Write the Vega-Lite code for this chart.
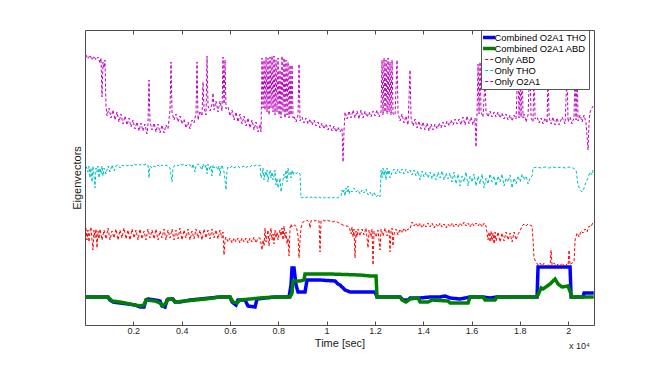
{
"$schema":"https://vega.github.io/schema/vega-lite/v6.json",
"width":509,"height":295,"autosize":"none",
"padding":{"left":85,"top":30,"right":60,"bottom":40},
"background":"white",
"title":{"text":"x 10⁴","orient":"bottom","anchor":"end","fontSize":9,"fontWeight":"normal","color":"#262626","font":"Liberation Sans","offset":-6,"dx":-4},
"config":{
 "font":"Liberation Sans",
 "view":{"stroke":"#4d4d4d","strokeWidth":1},
 "axis":{"domainColor":"#4d4d4d","tickColor":"#4d4d4d","labelColor":"#262626","titleColor":"#1a1a1a","grid":false,"labelFont":"Liberation Sans","titleFont":"Liberation Sans","titleFontWeight":"normal"},
 "legend":{"orient":"none","legendX":396,"legendY":0,"title":null,"fillColor":"white","strokeColor":"#555","padding":2,"rowPadding":0,"clipHeight":11,"labelFontSize":9.4,"labelFont":"Liberation Sans","labelColor":"#000","labelOffset":2,"symbolType":"stroke","symbolSize":225,"cornerRadius":0}
},
"data":{"values":[
{"s":"Combined O2A1 THO","t":41,"y":33},{"s":"Combined O2A1 THO","t":621,"y":33},{"s":"Combined O2A1 THO","t":952,"y":33},{"s":"Combined O2A1 THO","t":1035,"y":30},{"s":"Combined O2A1 THO","t":1159,"y":28},{"s":"Combined O2A1 THO","t":1449,"y":27},{"s":"Combined O2A1 THO","t":1780,"y":26},{"s":"Combined O2A1 THO","t":2070,"y":25},{"s":"Combined O2A1 THO","t":2277,"y":23},{"s":"Combined O2A1 THO","t":2443,"y":23},{"s":"Combined O2A1 THO","t":2525,"y":30},{"s":"Combined O2A1 THO","t":2608,"y":31},{"s":"Combined O2A1 THO","t":2898,"y":30},{"s":"Combined O2A1 THO","t":3105,"y":29},{"s":"Combined O2A1 THO","t":3188,"y":24},{"s":"Combined O2A1 THO","t":3312,"y":23},{"s":"Combined O2A1 THO","t":3395,"y":30},{"s":"Combined O2A1 THO","t":3519,"y":31},{"s":"Combined O2A1 THO","t":3643,"y":31},{"s":"Combined O2A1 THO","t":3726,"y":28},{"s":"Combined O2A1 THO","t":3933,"y":28},{"s":"Combined O2A1 THO","t":4140,"y":29},{"s":"Combined O2A1 THO","t":4347,"y":30},{"s":"Combined O2A1 THO","t":4761,"y":31},{"s":"Combined O2A1 THO","t":5175,"y":32},{"s":"Combined O2A1 THO","t":5589,"y":33},{"s":"Combined O2A1 THO","t":6003,"y":33},{"s":"Combined O2A1 THO","t":6086,"y":28},{"s":"Combined O2A1 THO","t":6251,"y":25},{"s":"Combined O2A1 THO","t":6334,"y":30},{"s":"Combined O2A1 THO","t":6624,"y":30},{"s":"Combined O2A1 THO","t":6748,"y":24},{"s":"Combined O2A1 THO","t":7038,"y":23},{"s":"Combined O2A1 THO","t":7121,"y":31},{"s":"Combined O2A1 THO","t":7452,"y":32},{"s":"Combined O2A1 THO","t":7866,"y":33},{"s":"Combined O2A1 THO","t":8446,"y":33},{"s":"Combined O2A1 THO","t":8528,"y":45},{"s":"Combined O2A1 THO","t":8570,"y":62},{"s":"Combined O2A1 THO","t":8653,"y":62},{"s":"Combined O2A1 THO","t":8735,"y":45},{"s":"Combined O2A1 THO","t":8818,"y":38},{"s":"Combined O2A1 THO","t":9108,"y":38},{"s":"Combined O2A1 THO","t":9191,"y":50},{"s":"Combined O2A1 THO","t":9729,"y":50},{"s":"Combined O2A1 THO","t":10350,"y":49},{"s":"Combined O2A1 THO","t":10474,"y":46},{"s":"Combined O2A1 THO","t":10557,"y":45},{"s":"Combined O2A1 THO","t":10764,"y":40},{"s":"Combined O2A1 THO","t":10971,"y":38},{"s":"Combined O2A1 THO","t":11592,"y":38},{"s":"Combined O2A1 THO","t":12006,"y":38},{"s":"Combined O2A1 THO","t":12089,"y":33},{"s":"Combined O2A1 THO","t":12627,"y":33},{"s":"Combined O2A1 THO","t":13041,"y":33},{"s":"Combined O2A1 THO","t":13165,"y":30},{"s":"Combined O2A1 THO","t":13372,"y":30},{"s":"Combined O2A1 THO","t":13455,"y":32},{"s":"Combined O2A1 THO","t":13869,"y":32},{"s":"Combined O2A1 THO","t":14283,"y":33},{"s":"Combined O2A1 THO","t":14697,"y":33},{"s":"Combined O2A1 THO","t":14904,"y":34},{"s":"Combined O2A1 THO","t":15111,"y":32},{"s":"Combined O2A1 THO","t":15525,"y":31},{"s":"Combined O2A1 THO","t":15939,"y":33},{"s":"Combined O2A1 THO","t":16477,"y":33},{"s":"Combined O2A1 THO","t":16767,"y":32},{"s":"Combined O2A1 THO","t":17057,"y":33},{"s":"Combined O2A1 THO","t":18713,"y":33},{"s":"Combined O2A1 THO","t":18754,"y":63},{"s":"Combined O2A1 THO","t":20079,"y":63},{"s":"Combined O2A1 THO","t":20121,"y":33},{"s":"Combined O2A1 THO","t":20617,"y":33},{"s":"Combined O2A1 THO","t":20659,"y":37},{"s":"Combined O2A1 THO","t":21060,"y":37},
{"s":"Combined O2A1 ABD","t":41,"y":33},{"s":"Combined O2A1 ABD","t":952,"y":33},{"s":"Combined O2A1 ABD","t":1118,"y":29},{"s":"Combined O2A1 ABD","t":1449,"y":28},{"s":"Combined O2A1 ABD","t":1863,"y":26},{"s":"Combined O2A1 ABD","t":2277,"y":24},{"s":"Combined O2A1 ABD","t":2443,"y":25},{"s":"Combined O2A1 ABD","t":2525,"y":30},{"s":"Combined O2A1 ABD","t":2898,"y":29},{"s":"Combined O2A1 ABD","t":3105,"y":27},{"s":"Combined O2A1 ABD","t":3229,"y":24},{"s":"Combined O2A1 ABD","t":3353,"y":27},{"s":"Combined O2A1 ABD","t":3436,"y":31},{"s":"Combined O2A1 ABD","t":3602,"y":31},{"s":"Combined O2A1 ABD","t":3726,"y":28},{"s":"Combined O2A1 ABD","t":4140,"y":29},{"s":"Combined O2A1 ABD","t":4554,"y":30},{"s":"Combined O2A1 ABD","t":4968,"y":31},{"s":"Combined O2A1 ABD","t":5589,"y":33},{"s":"Combined O2A1 ABD","t":6003,"y":33},{"s":"Combined O2A1 ABD","t":6128,"y":28},{"s":"Combined O2A1 ABD","t":6293,"y":27},{"s":"Combined O2A1 ABD","t":6417,"y":30},{"s":"Combined O2A1 ABD","t":6831,"y":31},{"s":"Combined O2A1 ABD","t":7245,"y":32},{"s":"Combined O2A1 ABD","t":7866,"y":33},{"s":"Combined O2A1 ABD","t":8487,"y":33},{"s":"Combined O2A1 ABD","t":8570,"y":37},{"s":"Combined O2A1 ABD","t":8611,"y":49},{"s":"Combined O2A1 ABD","t":8901,"y":49},{"s":"Combined O2A1 ABD","t":9067,"y":50},{"s":"Combined O2A1 ABD","t":9108,"y":56},{"s":"Combined O2A1 ABD","t":10143,"y":56},{"s":"Combined O2A1 ABD","t":11385,"y":55},{"s":"Combined O2A1 ABD","t":11799,"y":54},{"s":"Combined O2A1 ABD","t":12047,"y":54},{"s":"Combined O2A1 ABD","t":12089,"y":33},{"s":"Combined O2A1 ABD","t":13041,"y":33},{"s":"Combined O2A1 ABD","t":13124,"y":30},{"s":"Combined O2A1 ABD","t":13289,"y":28},{"s":"Combined O2A1 ABD","t":13455,"y":31},{"s":"Combined O2A1 ABD","t":13786,"y":32},{"s":"Combined O2A1 ABD","t":13869,"y":28},{"s":"Combined O2A1 ABD","t":14200,"y":28},{"s":"Combined O2A1 ABD","t":14366,"y":30},{"s":"Combined O2A1 ABD","t":15028,"y":29},{"s":"Combined O2A1 ABD","t":15111,"y":27},{"s":"Combined O2A1 ABD","t":15856,"y":27},{"s":"Combined O2A1 ABD","t":15939,"y":33},{"s":"Combined O2A1 ABD","t":16477,"y":33},{"s":"Combined O2A1 ABD","t":16560,"y":30},{"s":"Combined O2A1 ABD","t":16974,"y":30},{"s":"Combined O2A1 ABD","t":17057,"y":33},{"s":"Combined O2A1 ABD","t":18671,"y":33},{"s":"Combined O2A1 ABD","t":18754,"y":35},{"s":"Combined O2A1 ABD","t":18878,"y":42},{"s":"Combined O2A1 ABD","t":18961,"y":41},{"s":"Combined O2A1 ABD","t":19251,"y":46},{"s":"Combined O2A1 ABD","t":19458,"y":51},{"s":"Combined O2A1 ABD","t":19582,"y":46},{"s":"Combined O2A1 ABD","t":19748,"y":43},{"s":"Combined O2A1 ABD","t":19996,"y":44},{"s":"Combined O2A1 ABD","t":20162,"y":33},{"s":"Combined O2A1 ABD","t":21060,"y":33},
{"s":"Only ABD","t":41,"y":102},{"s":"Only ABD","t":83,"y":90},{"s":"Only ABD","t":124,"y":100},{"s":"Only ABD","t":166,"y":88},{"s":"Only ABD","t":207,"y":99},{"s":"Only ABD","t":248,"y":103},{"s":"Only ABD","t":290,"y":90},{"s":"Only ABD","t":331,"y":80},{"s":"Only ABD","t":373,"y":100},{"s":"Only ABD","t":414,"y":92},{"s":"Only ABD","t":455,"y":101},{"s":"Only ABD","t":497,"y":82},{"s":"Only ABD","t":538,"y":99},{"s":"Only ABD","t":580,"y":91},{"s":"Only ABD","t":621,"y":101},{"s":"Only ABD","t":704,"y":90},{"s":"Only ABD","t":787,"y":100},{"s":"Only ABD","t":869,"y":91},{"s":"Only ABD","t":952,"y":102},{"s":"Only ABD","t":1035,"y":90},{"s":"Only ABD","t":1118,"y":99},{"s":"Only ABD","t":1201,"y":92},{"s":"Only ABD","t":1283,"y":101},{"s":"Only ABD","t":1366,"y":90},{"s":"Only ABD","t":1449,"y":100},{"s":"Only ABD","t":1532,"y":92},{"s":"Only ABD","t":1615,"y":102},{"s":"Only ABD","t":1697,"y":91},{"s":"Only ABD","t":1780,"y":100},{"s":"Only ABD","t":1863,"y":90},{"s":"Only ABD","t":1946,"y":101},{"s":"Only ABD","t":2029,"y":92},{"s":"Only ABD","t":2111,"y":100},{"s":"Only ABD","t":2194,"y":90},{"s":"Only ABD","t":2277,"y":101},{"s":"Only ABD","t":2360,"y":91},{"s":"Only ABD","t":2443,"y":99},{"s":"Only ABD","t":2525,"y":90},{"s":"Only ABD","t":2608,"y":101},{"s":"Only ABD","t":2691,"y":92},{"s":"Only ABD","t":2774,"y":100},{"s":"Only ABD","t":2857,"y":91},{"s":"Only ABD","t":2939,"y":101},{"s":"Only ABD","t":3022,"y":90},{"s":"Only ABD","t":3105,"y":99},{"s":"Only ABD","t":3188,"y":92},{"s":"Only ABD","t":3271,"y":101},{"s":"Only ABD","t":3353,"y":90},{"s":"Only ABD","t":3436,"y":100},{"s":"Only ABD","t":3519,"y":92},{"s":"Only ABD","t":3602,"y":101},{"s":"Only ABD","t":3685,"y":90},{"s":"Only ABD","t":3767,"y":100},{"s":"Only ABD","t":3850,"y":91},{"s":"Only ABD","t":3933,"y":102},{"s":"Only ABD","t":4016,"y":90},{"s":"Only ABD","t":4099,"y":100},{"s":"Only ABD","t":4181,"y":92},{"s":"Only ABD","t":4264,"y":101},{"s":"Only ABD","t":4347,"y":90},{"s":"Only ABD","t":4430,"y":99},{"s":"Only ABD","t":4513,"y":91},{"s":"Only ABD","t":4595,"y":101},{"s":"Only ABD","t":4678,"y":92},{"s":"Only ABD","t":4761,"y":100},{"s":"Only ABD","t":4844,"y":90},{"s":"Only ABD","t":4927,"y":101},{"s":"Only ABD","t":5009,"y":92},{"s":"Only ABD","t":5092,"y":100},{"s":"Only ABD","t":5175,"y":91},{"s":"Only ABD","t":5258,"y":101},{"s":"Only ABD","t":5341,"y":92},{"s":"Only ABD","t":5423,"y":100},{"s":"Only ABD","t":5506,"y":91},{"s":"Only ABD","t":5589,"y":100},{"s":"Only ABD","t":5672,"y":92},{"s":"Only ABD","t":5713,"y":98},{"s":"Only ABD","t":5755,"y":75},{"s":"Only ABD","t":5796,"y":90},{"s":"Only ABD","t":5837,"y":93},{"s":"Only ABD","t":5920,"y":88},{"s":"Only ABD","t":6003,"y":92},{"s":"Only ABD","t":6086,"y":87},{"s":"Only ABD","t":6169,"y":92},{"s":"Only ABD","t":6251,"y":88},{"s":"Only ABD","t":6334,"y":92},{"s":"Only ABD","t":6417,"y":87},{"s":"Only ABD","t":6500,"y":92},{"s":"Only ABD","t":6583,"y":88},{"s":"Only ABD","t":6665,"y":92},{"s":"Only ABD","t":6748,"y":87},{"s":"Only ABD","t":6831,"y":92},{"s":"Only ABD","t":6914,"y":88},{"s":"Only ABD","t":6997,"y":93},{"s":"Only ABD","t":7079,"y":87},{"s":"Only ABD","t":7162,"y":92},{"s":"Only ABD","t":7245,"y":92},{"s":"Only ABD","t":7286,"y":86},{"s":"Only ABD","t":7328,"y":80},{"s":"Only ABD","t":7369,"y":90},{"s":"Only ABD","t":7411,"y":84},{"s":"Only ABD","t":7452,"y":102},{"s":"Only ABD","t":7493,"y":88},{"s":"Only ABD","t":7535,"y":94},{"s":"Only ABD","t":7576,"y":100},{"s":"Only ABD","t":7618,"y":84},{"s":"Only ABD","t":7659,"y":95},{"s":"Only ABD","t":7700,"y":102},{"s":"Only ABD","t":7742,"y":90},{"s":"Only ABD","t":7783,"y":96},{"s":"Only ABD","t":7825,"y":86},{"s":"Only ABD","t":7866,"y":100},{"s":"Only ABD","t":7907,"y":92},{"s":"Only ABD","t":7949,"y":98},{"s":"Only ABD","t":7990,"y":90},{"s":"Only ABD","t":8032,"y":96},{"s":"Only ABD","t":8073,"y":100},{"s":"Only ABD","t":8114,"y":94},{"s":"Only ABD","t":8156,"y":102},{"s":"Only ABD","t":8197,"y":90},{"s":"Only ABD","t":8239,"y":104},{"s":"Only ABD","t":8280,"y":92},{"s":"Only ABD","t":8321,"y":98},{"s":"Only ABD","t":8363,"y":86},{"s":"Only ABD","t":8404,"y":92},{"s":"Only ABD","t":8446,"y":74},{"s":"Only ABD","t":8487,"y":102},{"s":"Only ABD","t":8528,"y":106},{"s":"Only ABD","t":8570,"y":103},{"s":"Only ABD","t":8653,"y":105},{"s":"Only ABD","t":8735,"y":104},{"s":"Only ABD","t":8777,"y":100},{"s":"Only ABD","t":8818,"y":94},{"s":"Only ABD","t":8860,"y":72},{"s":"Only ABD","t":8901,"y":90},{"s":"Only ABD","t":8942,"y":102},{"s":"Only ABD","t":8984,"y":106},{"s":"Only ABD","t":9025,"y":108},{"s":"Only ABD","t":9108,"y":109},{"s":"Only ABD","t":9191,"y":110},{"s":"Only ABD","t":9274,"y":108},{"s":"Only ABD","t":9315,"y":102},{"s":"Only ABD","t":9356,"y":109},{"s":"Only ABD","t":9439,"y":110},{"s":"Only ABD","t":9522,"y":109},{"s":"Only ABD","t":9605,"y":110},{"s":"Only ABD","t":9688,"y":109},{"s":"Only ABD","t":9729,"y":78},{"s":"Only ABD","t":9770,"y":109},{"s":"Only ABD","t":9853,"y":110},{"s":"Only ABD","t":9936,"y":109},{"s":"Only ABD","t":10019,"y":110},{"s":"Only ABD","t":10102,"y":109},{"s":"Only ABD","t":10184,"y":109},{"s":"Only ABD","t":10267,"y":108},{"s":"Only ABD","t":10350,"y":109},{"s":"Only ABD","t":10433,"y":108},{"s":"Only ABD","t":10516,"y":107},{"s":"Only ABD","t":10598,"y":106},{"s":"Only ABD","t":10681,"y":105},{"s":"Only ABD","t":10764,"y":104},{"s":"Only ABD","t":10847,"y":104},{"s":"Only ABD","t":10930,"y":103},{"s":"Only ABD","t":10971,"y":100},{"s":"Only ABD","t":11012,"y":96},{"s":"Only ABD","t":11054,"y":103},{"s":"Only ABD","t":11095,"y":93},{"s":"Only ABD","t":11137,"y":101},{"s":"Only ABD","t":11178,"y":72},{"s":"Only ABD","t":11219,"y":99},{"s":"Only ABD","t":11261,"y":93},{"s":"Only ABD","t":11302,"y":101},{"s":"Only ABD","t":11385,"y":94},{"s":"Only ABD","t":11468,"y":101},{"s":"Only ABD","t":11551,"y":95},{"s":"Only ABD","t":11633,"y":102},{"s":"Only ABD","t":11716,"y":82},{"s":"Only ABD","t":11758,"y":100},{"s":"Only ABD","t":11840,"y":93},{"s":"Only ABD","t":11882,"y":101},{"s":"Only ABD","t":11923,"y":65},{"s":"Only ABD","t":11965,"y":99},{"s":"Only ABD","t":12047,"y":93},{"s":"Only ABD","t":12130,"y":100},{"s":"Only ABD","t":12213,"y":80},{"s":"Only ABD","t":12254,"y":101},{"s":"Only ABD","t":12337,"y":94},{"s":"Only ABD","t":12420,"y":102},{"s":"Only ABD","t":12503,"y":94},{"s":"Only ABD","t":12586,"y":101},{"s":"Only ABD","t":12627,"y":78},{"s":"Only ABD","t":12668,"y":99},{"s":"Only ABD","t":12710,"y":102},{"s":"Only ABD","t":12751,"y":84},{"s":"Only ABD","t":12793,"y":96},{"s":"Only ABD","t":12875,"y":101},{"s":"Only ABD","t":12958,"y":95},{"s":"Only ABD","t":13041,"y":101},{"s":"Only ABD","t":13124,"y":97},{"s":"Only ABD","t":13207,"y":102},{"s":"Only ABD","t":13289,"y":98},{"s":"Only ABD","t":13372,"y":101},{"s":"Only ABD","t":13455,"y":101},{"s":"Only ABD","t":13538,"y":108},{"s":"Only ABD","t":13621,"y":104},{"s":"Only ABD","t":13703,"y":107},{"s":"Only ABD","t":13786,"y":103},{"s":"Only ABD","t":13869,"y":107},{"s":"Only ABD","t":13952,"y":102},{"s":"Only ABD","t":14035,"y":106},{"s":"Only ABD","t":14117,"y":103},{"s":"Only ABD","t":14200,"y":107},{"s":"Only ABD","t":14283,"y":103},{"s":"Only ABD","t":14366,"y":107},{"s":"Only ABD","t":14449,"y":102},{"s":"Only ABD","t":14531,"y":106},{"s":"Only ABD","t":14614,"y":103},{"s":"Only ABD","t":14697,"y":107},{"s":"Only ABD","t":14780,"y":103},{"s":"Only ABD","t":14863,"y":106},{"s":"Only ABD","t":14945,"y":102},{"s":"Only ABD","t":15028,"y":106},{"s":"Only ABD","t":15111,"y":103},{"s":"Only ABD","t":15194,"y":107},{"s":"Only ABD","t":15277,"y":103},{"s":"Only ABD","t":15359,"y":106},{"s":"Only ABD","t":15442,"y":103},{"s":"Only ABD","t":15525,"y":107},{"s":"Only ABD","t":15608,"y":104},{"s":"Only ABD","t":15691,"y":108},{"s":"Only ABD","t":15773,"y":104},{"s":"Only ABD","t":15856,"y":107},{"s":"Only ABD","t":15939,"y":103},{"s":"Only ABD","t":16022,"y":107},{"s":"Only ABD","t":16105,"y":104},{"s":"Only ABD","t":16187,"y":107},{"s":"Only ABD","t":16270,"y":104},{"s":"Only ABD","t":16353,"y":107},{"s":"Only ABD","t":16436,"y":103},{"s":"Only ABD","t":16519,"y":107},{"s":"Only ABD","t":16601,"y":104},{"s":"Only ABD","t":16643,"y":97},{"s":"Only ABD","t":16684,"y":90},{"s":"Only ABD","t":16726,"y":98},{"s":"Only ABD","t":16767,"y":88},{"s":"Only ABD","t":16808,"y":99},{"s":"Only ABD","t":16850,"y":89},{"s":"Only ABD","t":16891,"y":97},{"s":"Only ABD","t":16933,"y":86},{"s":"Only ABD","t":16974,"y":98},{"s":"Only ABD","t":17015,"y":89},{"s":"Only ABD","t":17098,"y":98},{"s":"Only ABD","t":17181,"y":88},{"s":"Only ABD","t":17264,"y":97},{"s":"Only ABD","t":17347,"y":89},{"s":"Only ABD","t":17429,"y":98},{"s":"Only ABD","t":17512,"y":90},{"s":"Only ABD","t":17595,"y":97},{"s":"Only ABD","t":17678,"y":88},{"s":"Only ABD","t":17761,"y":98},{"s":"Only ABD","t":17843,"y":90},{"s":"Only ABD","t":17926,"y":96},{"s":"Only ABD","t":18009,"y":99},{"s":"Only ABD","t":18092,"y":104},{"s":"Only ABD","t":18175,"y":106},{"s":"Only ABD","t":18257,"y":104},{"s":"Only ABD","t":18340,"y":106},{"s":"Only ABD","t":18423,"y":105},{"s":"Only ABD","t":18506,"y":104},{"s":"Only ABD","t":18547,"y":90},{"s":"Only ABD","t":18589,"y":72},{"s":"Only ABD","t":18671,"y":68},{"s":"Only ABD","t":18754,"y":65},{"s":"Only ABD","t":18837,"y":67},{"s":"Only ABD","t":18920,"y":64},{"s":"Only ABD","t":19003,"y":67},{"s":"Only ABD","t":19086,"y":64},{"s":"Only ABD","t":19168,"y":66},{"s":"Only ABD","t":19251,"y":64},{"s":"Only ABD","t":19292,"y":80},{"s":"Only ABD","t":19334,"y":65},{"s":"Only ABD","t":19417,"y":67},{"s":"Only ABD","t":19499,"y":64},{"s":"Only ABD","t":19582,"y":66},{"s":"Only ABD","t":19665,"y":64},{"s":"Only ABD","t":19748,"y":67},{"s":"Only ABD","t":19831,"y":64},{"s":"Only ABD","t":19913,"y":66},{"s":"Only ABD","t":19996,"y":64},{"s":"Only ABD","t":20038,"y":80},{"s":"Only ABD","t":20079,"y":65},{"s":"Only ABD","t":20162,"y":67},{"s":"Only ABD","t":20245,"y":68},{"s":"Only ABD","t":20286,"y":90},{"s":"Only ABD","t":20369,"y":97},{"s":"Only ABD","t":20452,"y":93},{"s":"Only ABD","t":20534,"y":99},{"s":"Only ABD","t":20617,"y":97},{"s":"Only ABD","t":20700,"y":101},{"s":"Only ABD","t":20783,"y":98},{"s":"Only ABD","t":20866,"y":104},{"s":"Only ABD","t":20948,"y":103},{"s":"Only ABD","t":21031,"y":108},
{"s":"Only THO","t":41,"y":164},{"s":"Only THO","t":124,"y":158},{"s":"Only THO","t":166,"y":164},{"s":"Only THO","t":207,"y":152},{"s":"Only THO","t":248,"y":162},{"s":"Only THO","t":290,"y":148},{"s":"Only THO","t":331,"y":164},{"s":"Only THO","t":373,"y":155},{"s":"Only THO","t":414,"y":142},{"s":"Only THO","t":455,"y":162},{"s":"Only THO","t":497,"y":158},{"s":"Only THO","t":538,"y":164},{"s":"Only THO","t":580,"y":152},{"s":"Only THO","t":621,"y":162},{"s":"Only THO","t":662,"y":156},{"s":"Only THO","t":704,"y":164},{"s":"Only THO","t":745,"y":154},{"s":"Only THO","t":787,"y":162},{"s":"Only THO","t":869,"y":156},{"s":"Only THO","t":952,"y":164},{"s":"Only THO","t":1035,"y":158},{"s":"Only THO","t":1118,"y":165},{"s":"Only THO","t":1201,"y":159},{"s":"Only THO","t":1283,"y":164},{"s":"Only THO","t":1366,"y":165},{"s":"Only THO","t":1449,"y":162},{"s":"Only THO","t":1532,"y":165},{"s":"Only THO","t":1615,"y":164},{"s":"Only THO","t":1697,"y":165},{"s":"Only THO","t":1780,"y":164},{"s":"Only THO","t":1863,"y":165},{"s":"Only THO","t":1946,"y":164},{"s":"Only THO","t":2029,"y":166},{"s":"Only THO","t":2111,"y":165},{"s":"Only THO","t":2194,"y":166},{"s":"Only THO","t":2277,"y":165},{"s":"Only THO","t":2360,"y":166},{"s":"Only THO","t":2443,"y":165},{"s":"Only THO","t":2525,"y":166},{"s":"Only THO","t":2608,"y":165},{"s":"Only THO","t":2650,"y":152},{"s":"Only THO","t":2691,"y":164},{"s":"Only THO","t":2774,"y":162},{"s":"Only THO","t":2857,"y":164},{"s":"Only THO","t":2939,"y":163},{"s":"Only THO","t":3022,"y":165},{"s":"Only THO","t":3105,"y":163},{"s":"Only THO","t":3188,"y":165},{"s":"Only THO","t":3271,"y":164},{"s":"Only THO","t":3353,"y":165},{"s":"Only THO","t":3436,"y":164},{"s":"Only THO","t":3519,"y":162},{"s":"Only THO","t":3560,"y":155},{"s":"Only THO","t":3602,"y":148},{"s":"Only THO","t":3643,"y":162},{"s":"Only THO","t":3685,"y":164},{"s":"Only THO","t":3767,"y":165},{"s":"Only THO","t":3850,"y":164},{"s":"Only THO","t":3933,"y":166},{"s":"Only THO","t":4016,"y":165},{"s":"Only THO","t":4099,"y":166},{"s":"Only THO","t":4181,"y":164},{"s":"Only THO","t":4264,"y":166},{"s":"Only THO","t":4347,"y":165},{"s":"Only THO","t":4430,"y":162},{"s":"Only THO","t":4471,"y":166},{"s":"Only THO","t":4554,"y":158},{"s":"Only THO","t":4595,"y":165},{"s":"Only THO","t":4678,"y":166},{"s":"Only THO","t":4761,"y":164},{"s":"Only THO","t":4844,"y":160},{"s":"Only THO","t":4885,"y":166},{"s":"Only THO","t":4968,"y":162},{"s":"Only THO","t":5009,"y":165},{"s":"Only THO","t":5051,"y":156},{"s":"Only THO","t":5092,"y":166},{"s":"Only THO","t":5175,"y":160},{"s":"Only THO","t":5216,"y":164},{"s":"Only THO","t":5258,"y":154},{"s":"Only THO","t":5299,"y":165},{"s":"Only THO","t":5341,"y":162},{"s":"Only THO","t":5423,"y":164},{"s":"Only THO","t":5506,"y":160},{"s":"Only THO","t":5547,"y":164},{"s":"Only THO","t":5589,"y":154},{"s":"Only THO","t":5630,"y":162},{"s":"Only THO","t":5672,"y":165},{"s":"Only THO","t":5755,"y":158},{"s":"Only THO","t":5796,"y":150},{"s":"Only THO","t":5837,"y":140},{"s":"Only THO","t":5879,"y":160},{"s":"Only THO","t":5920,"y":163},{"s":"Only THO","t":6003,"y":162},{"s":"Only THO","t":6086,"y":164},{"s":"Only THO","t":6169,"y":162},{"s":"Only THO","t":6251,"y":163},{"s":"Only THO","t":6334,"y":164},{"s":"Only THO","t":6417,"y":162},{"s":"Only THO","t":6500,"y":163},{"s":"Only THO","t":6583,"y":164},{"s":"Only THO","t":6665,"y":162},{"s":"Only THO","t":6748,"y":164},{"s":"Only THO","t":6831,"y":163},{"s":"Only THO","t":6914,"y":165},{"s":"Only THO","t":6997,"y":164},{"s":"Only THO","t":7079,"y":165},{"s":"Only THO","t":7162,"y":164},{"s":"Only THO","t":7245,"y":165},{"s":"Only THO","t":7286,"y":152},{"s":"Only THO","t":7328,"y":156},{"s":"Only THO","t":7369,"y":162},{"s":"Only THO","t":7411,"y":150},{"s":"Only THO","t":7452,"y":158},{"s":"Only THO","t":7493,"y":154},{"s":"Only THO","t":7535,"y":160},{"s":"Only THO","t":7576,"y":148},{"s":"Only THO","t":7618,"y":156},{"s":"Only THO","t":7659,"y":160},{"s":"Only THO","t":7700,"y":152},{"s":"Only THO","t":7742,"y":158},{"s":"Only THO","t":7783,"y":150},{"s":"Only THO","t":7825,"y":154},{"s":"Only THO","t":7866,"y":160},{"s":"Only THO","t":7907,"y":145},{"s":"Only THO","t":7949,"y":152},{"s":"Only THO","t":7990,"y":142},{"s":"Only THO","t":8032,"y":146},{"s":"Only THO","t":8073,"y":152},{"s":"Only THO","t":8114,"y":138},{"s":"Only THO","t":8156,"y":144},{"s":"Only THO","t":8197,"y":150},{"s":"Only THO","t":8239,"y":156},{"s":"Only THO","t":8280,"y":152},{"s":"Only THO","t":8321,"y":160},{"s":"Only THO","t":8363,"y":148},{"s":"Only THO","t":8404,"y":162},{"s":"Only THO","t":8446,"y":155},{"s":"Only THO","t":8487,"y":158},{"s":"Only THO","t":8528,"y":152},{"s":"Only THO","t":8570,"y":160},{"s":"Only THO","t":8611,"y":155},{"s":"Only THO","t":8653,"y":158},{"s":"Only THO","t":8735,"y":156},{"s":"Only THO","t":8818,"y":158},{"s":"Only THO","t":8901,"y":156},{"s":"Only THO","t":8942,"y":132},{"s":"Only THO","t":9025,"y":133},{"s":"Only THO","t":9108,"y":132},{"s":"Only THO","t":9191,"y":133},{"s":"Only THO","t":9274,"y":132},{"s":"Only THO","t":9356,"y":133},{"s":"Only THO","t":9439,"y":132},{"s":"Only THO","t":9522,"y":133},{"s":"Only THO","t":9605,"y":132},{"s":"Only THO","t":9688,"y":133},{"s":"Only THO","t":9770,"y":132},{"s":"Only THO","t":9853,"y":133},{"s":"Only THO","t":9936,"y":132},{"s":"Only THO","t":10019,"y":133},{"s":"Only THO","t":10102,"y":132},{"s":"Only THO","t":10184,"y":133},{"s":"Only THO","t":10267,"y":132},{"s":"Only THO","t":10350,"y":133},{"s":"Only THO","t":10433,"y":132},{"s":"Only THO","t":10516,"y":133},{"s":"Only THO","t":10598,"y":134},{"s":"Only THO","t":10640,"y":140},{"s":"Only THO","t":10681,"y":137},{"s":"Only THO","t":10723,"y":140},{"s":"Only THO","t":10764,"y":134},{"s":"Only THO","t":10805,"y":142},{"s":"Only THO","t":10847,"y":138},{"s":"Only THO","t":10888,"y":144},{"s":"Only THO","t":10930,"y":136},{"s":"Only THO","t":10971,"y":140},{"s":"Only THO","t":11054,"y":138},{"s":"Only THO","t":11137,"y":142},{"s":"Only THO","t":11219,"y":138},{"s":"Only THO","t":11302,"y":140},{"s":"Only THO","t":11385,"y":136},{"s":"Only THO","t":11468,"y":140},{"s":"Only THO","t":11551,"y":137},{"s":"Only THO","t":11633,"y":141},{"s":"Only THO","t":11716,"y":135},{"s":"Only THO","t":11799,"y":138},{"s":"Only THO","t":11882,"y":134},{"s":"Only THO","t":11965,"y":138},{"s":"Only THO","t":12047,"y":133},{"s":"Only THO","t":12130,"y":135},{"s":"Only THO","t":12213,"y":133},{"s":"Only THO","t":12254,"y":160},{"s":"Only THO","t":12296,"y":152},{"s":"Only THO","t":12337,"y":162},{"s":"Only THO","t":12379,"y":154},{"s":"Only THO","t":12420,"y":160},{"s":"Only THO","t":12461,"y":150},{"s":"Only THO","t":12503,"y":162},{"s":"Only THO","t":12544,"y":155},{"s":"Only THO","t":12586,"y":160},{"s":"Only THO","t":12627,"y":152},{"s":"Only THO","t":12710,"y":158},{"s":"Only THO","t":12793,"y":161},{"s":"Only THO","t":12875,"y":156},{"s":"Only THO","t":12958,"y":161},{"s":"Only THO","t":13041,"y":157},{"s":"Only THO","t":13124,"y":161},{"s":"Only THO","t":13207,"y":156},{"s":"Only THO","t":13289,"y":161},{"s":"Only THO","t":13372,"y":157},{"s":"Only THO","t":13455,"y":160},{"s":"Only THO","t":13538,"y":155},{"s":"Only THO","t":13621,"y":160},{"s":"Only THO","t":13703,"y":154},{"s":"Only THO","t":13786,"y":159},{"s":"Only THO","t":13869,"y":150},{"s":"Only THO","t":13952,"y":159},{"s":"Only THO","t":14035,"y":153},{"s":"Only THO","t":14117,"y":158},{"s":"Only THO","t":14200,"y":152},{"s":"Only THO","t":14283,"y":158},{"s":"Only THO","t":14366,"y":151},{"s":"Only THO","t":14449,"y":157},{"s":"Only THO","t":14531,"y":150},{"s":"Only THO","t":14614,"y":158},{"s":"Only THO","t":14697,"y":152},{"s":"Only THO","t":14780,"y":159},{"s":"Only THO","t":14863,"y":150},{"s":"Only THO","t":14945,"y":157},{"s":"Only THO","t":15028,"y":151},{"s":"Only THO","t":15111,"y":157},{"s":"Only THO","t":15194,"y":148},{"s":"Only THO","t":15277,"y":158},{"s":"Only THO","t":15359,"y":146},{"s":"Only THO","t":15442,"y":156},{"s":"Only THO","t":15525,"y":144},{"s":"Only THO","t":15608,"y":154},{"s":"Only THO","t":15691,"y":148},{"s":"Only THO","t":15773,"y":158},{"s":"Only THO","t":15856,"y":144},{"s":"Only THO","t":15939,"y":154},{"s":"Only THO","t":16022,"y":148},{"s":"Only THO","t":16105,"y":156},{"s":"Only THO","t":16187,"y":144},{"s":"Only THO","t":16270,"y":154},{"s":"Only THO","t":16353,"y":146},{"s":"Only THO","t":16436,"y":156},{"s":"Only THO","t":16519,"y":142},{"s":"Only THO","t":16601,"y":152},{"s":"Only THO","t":16684,"y":146},{"s":"Only THO","t":16767,"y":156},{"s":"Only THO","t":16850,"y":148},{"s":"Only THO","t":16933,"y":154},{"s":"Only THO","t":17015,"y":144},{"s":"Only THO","t":17098,"y":154},{"s":"Only THO","t":17181,"y":148},{"s":"Only THO","t":17264,"y":156},{"s":"Only THO","t":17347,"y":144},{"s":"Only THO","t":17429,"y":152},{"s":"Only THO","t":17512,"y":148},{"s":"Only THO","t":17595,"y":155},{"s":"Only THO","t":17678,"y":142},{"s":"Only THO","t":17761,"y":152},{"s":"Only THO","t":17843,"y":146},{"s":"Only THO","t":17926,"y":154},{"s":"Only THO","t":18009,"y":148},{"s":"Only THO","t":18092,"y":156},{"s":"Only THO","t":18175,"y":150},{"s":"Only THO","t":18257,"y":154},{"s":"Only THO","t":18340,"y":146},{"s":"Only THO","t":18423,"y":152},{"s":"Only THO","t":18506,"y":154},{"s":"Only THO","t":18547,"y":162},{"s":"Only THO","t":18713,"y":163},{"s":"Only THO","t":18878,"y":162},{"s":"Only THO","t":19044,"y":163},{"s":"Only THO","t":19210,"y":162},{"s":"Only THO","t":19375,"y":163},{"s":"Only THO","t":19541,"y":162},{"s":"Only THO","t":19706,"y":163},{"s":"Only THO","t":19872,"y":162},{"s":"Only THO","t":20038,"y":163},{"s":"Only THO","t":20203,"y":162},{"s":"Only THO","t":20327,"y":160},{"s":"Only THO","t":20410,"y":145},{"s":"Only THO","t":20493,"y":140},{"s":"Only THO","t":20576,"y":138},{"s":"Only THO","t":20659,"y":142},{"s":"Only THO","t":20741,"y":148},{"s":"Only THO","t":20824,"y":152},{"s":"Only THO","t":20907,"y":158},{"s":"Only THO","t":20990,"y":155},{"s":"Only THO","t":21031,"y":160},
{"s":"Only O2A1","t":41,"y":275},{"s":"Only O2A1","t":124,"y":271},{"s":"Only O2A1","t":207,"y":275},{"s":"Only O2A1","t":290,"y":270},{"s":"Only O2A1","t":373,"y":274},{"s":"Only O2A1","t":455,"y":270},{"s":"Only O2A1","t":538,"y":273},{"s":"Only O2A1","t":621,"y":267},{"s":"Only O2A1","t":662,"y":272},{"s":"Only O2A1","t":704,"y":233},{"s":"Only O2A1","t":745,"y":268},{"s":"Only O2A1","t":787,"y":262},{"s":"Only O2A1","t":828,"y":270},{"s":"Only O2A1","t":869,"y":224},{"s":"Only O2A1","t":911,"y":214},{"s":"Only O2A1","t":994,"y":222},{"s":"Only O2A1","t":1076,"y":212},{"s":"Only O2A1","t":1159,"y":220},{"s":"Only O2A1","t":1242,"y":210},{"s":"Only O2A1","t":1325,"y":218},{"s":"Only O2A1","t":1408,"y":208},{"s":"Only O2A1","t":1490,"y":216},{"s":"Only O2A1","t":1573,"y":206},{"s":"Only O2A1","t":1656,"y":214},{"s":"Only O2A1","t":1739,"y":205},{"s":"Only O2A1","t":1822,"y":212},{"s":"Only O2A1","t":1904,"y":203},{"s":"Only O2A1","t":1987,"y":210},{"s":"Only O2A1","t":2070,"y":201},{"s":"Only O2A1","t":2153,"y":208},{"s":"Only O2A1","t":2236,"y":199},{"s":"Only O2A1","t":2318,"y":207},{"s":"Only O2A1","t":2401,"y":199},{"s":"Only O2A1","t":2484,"y":206},{"s":"Only O2A1","t":2567,"y":196},{"s":"Only O2A1","t":2608,"y":206},{"s":"Only O2A1","t":2650,"y":250},{"s":"Only O2A1","t":2691,"y":208},{"s":"Only O2A1","t":2774,"y":200},{"s":"Only O2A1","t":2857,"y":207},{"s":"Only O2A1","t":2939,"y":198},{"s":"Only O2A1","t":3022,"y":206},{"s":"Only O2A1","t":3105,"y":197},{"s":"Only O2A1","t":3188,"y":205},{"s":"Only O2A1","t":3271,"y":197},{"s":"Only O2A1","t":3353,"y":205},{"s":"Only O2A1","t":3436,"y":201},{"s":"Only O2A1","t":3519,"y":220},{"s":"Only O2A1","t":3560,"y":268},{"s":"Only O2A1","t":3602,"y":218},{"s":"Only O2A1","t":3685,"y":210},{"s":"Only O2A1","t":3767,"y":216},{"s":"Only O2A1","t":3850,"y":208},{"s":"Only O2A1","t":3933,"y":214},{"s":"Only O2A1","t":4016,"y":206},{"s":"Only O2A1","t":4099,"y":211},{"s":"Only O2A1","t":4181,"y":202},{"s":"Only O2A1","t":4264,"y":208},{"s":"Only O2A1","t":4347,"y":201},{"s":"Only O2A1","t":4430,"y":210},{"s":"Only O2A1","t":4513,"y":207},{"s":"Only O2A1","t":4595,"y":217},{"s":"Only O2A1","t":4637,"y":268},{"s":"Only O2A1","t":4678,"y":210},{"s":"Only O2A1","t":4761,"y":219},{"s":"Only O2A1","t":4844,"y":214},{"s":"Only O2A1","t":4885,"y":248},{"s":"Only O2A1","t":4927,"y":222},{"s":"Only O2A1","t":5009,"y":215},{"s":"Only O2A1","t":5051,"y":274},{"s":"Only O2A1","t":5092,"y":224},{"s":"Only O2A1","t":5175,"y":219},{"s":"Only O2A1","t":5258,"y":226},{"s":"Only O2A1","t":5299,"y":237},{"s":"Only O2A1","t":5341,"y":220},{"s":"Only O2A1","t":5423,"y":229},{"s":"Only O2A1","t":5506,"y":218},{"s":"Only O2A1","t":5589,"y":229},{"s":"Only O2A1","t":5672,"y":219},{"s":"Only O2A1","t":5713,"y":273},{"s":"Only O2A1","t":5755,"y":226},{"s":"Only O2A1","t":5796,"y":270},{"s":"Only O2A1","t":5837,"y":221},{"s":"Only O2A1","t":5920,"y":223},{"s":"Only O2A1","t":6003,"y":214},{"s":"Only O2A1","t":6086,"y":220},{"s":"Only O2A1","t":6169,"y":210},{"s":"Only O2A1","t":6251,"y":218},{"s":"Only O2A1","t":6334,"y":208},{"s":"Only O2A1","t":6417,"y":216},{"s":"Only O2A1","t":6500,"y":206},{"s":"Only O2A1","t":6583,"y":214},{"s":"Only O2A1","t":6665,"y":204},{"s":"Only O2A1","t":6748,"y":212},{"s":"Only O2A1","t":6831,"y":202},{"s":"Only O2A1","t":6914,"y":210},{"s":"Only O2A1","t":6997,"y":200},{"s":"Only O2A1","t":7079,"y":208},{"s":"Only O2A1","t":7162,"y":198},{"s":"Only O2A1","t":7245,"y":206},{"s":"Only O2A1","t":7286,"y":198},{"s":"Only O2A1","t":7328,"y":272},{"s":"Only O2A1","t":7369,"y":222},{"s":"Only O2A1","t":7411,"y":270},{"s":"Only O2A1","t":7452,"y":220},{"s":"Only O2A1","t":7493,"y":273},{"s":"Only O2A1","t":7535,"y":218},{"s":"Only O2A1","t":7576,"y":272},{"s":"Only O2A1","t":7618,"y":215},{"s":"Only O2A1","t":7659,"y":273},{"s":"Only O2A1","t":7700,"y":222},{"s":"Only O2A1","t":7742,"y":274},{"s":"Only O2A1","t":7783,"y":218},{"s":"Only O2A1","t":7825,"y":274},{"s":"Only O2A1","t":7866,"y":215},{"s":"Only O2A1","t":7907,"y":270},{"s":"Only O2A1","t":7949,"y":218},{"s":"Only O2A1","t":7990,"y":272},{"s":"Only O2A1","t":8032,"y":215},{"s":"Only O2A1","t":8073,"y":260},{"s":"Only O2A1","t":8114,"y":212},{"s":"Only O2A1","t":8156,"y":274},{"s":"Only O2A1","t":8197,"y":218},{"s":"Only O2A1","t":8239,"y":272},{"s":"Only O2A1","t":8280,"y":212},{"s":"Only O2A1","t":8321,"y":270},{"s":"Only O2A1","t":8363,"y":215},{"s":"Only O2A1","t":8404,"y":268},{"s":"Only O2A1","t":8446,"y":212},{"s":"Only O2A1","t":8487,"y":265},{"s":"Only O2A1","t":8528,"y":215},{"s":"Only O2A1","t":8570,"y":265},{"s":"Only O2A1","t":8611,"y":212},{"s":"Only O2A1","t":8653,"y":214},{"s":"Only O2A1","t":8735,"y":208},{"s":"Only O2A1","t":8818,"y":215},{"s":"Only O2A1","t":8860,"y":266},{"s":"Only O2A1","t":8901,"y":209},{"s":"Only O2A1","t":8984,"y":213},{"s":"Only O2A1","t":9067,"y":207},{"s":"Only O2A1","t":9149,"y":212},{"s":"Only O2A1","t":9232,"y":206},{"s":"Only O2A1","t":9315,"y":211},{"s":"Only O2A1","t":9398,"y":205},{"s":"Only O2A1","t":9481,"y":210},{"s":"Only O2A1","t":9563,"y":204},{"s":"Only O2A1","t":9646,"y":208},{"s":"Only O2A1","t":9729,"y":202},{"s":"Only O2A1","t":9812,"y":207},{"s":"Only O2A1","t":9895,"y":201},{"s":"Only O2A1","t":9977,"y":206},{"s":"Only O2A1","t":10060,"y":200},{"s":"Only O2A1","t":10143,"y":205},{"s":"Only O2A1","t":10226,"y":199},{"s":"Only O2A1","t":10309,"y":204},{"s":"Only O2A1","t":10391,"y":198},{"s":"Only O2A1","t":10474,"y":203},{"s":"Only O2A1","t":10557,"y":198},{"s":"Only O2A1","t":10640,"y":202},{"s":"Only O2A1","t":10681,"y":168},{"s":"Only O2A1","t":10723,"y":200},{"s":"Only O2A1","t":10764,"y":218},{"s":"Only O2A1","t":10847,"y":211},{"s":"Only O2A1","t":10930,"y":219},{"s":"Only O2A1","t":11012,"y":212},{"s":"Only O2A1","t":11095,"y":220},{"s":"Only O2A1","t":11178,"y":212},{"s":"Only O2A1","t":11261,"y":219},{"s":"Only O2A1","t":11344,"y":211},{"s":"Only O2A1","t":11426,"y":220},{"s":"Only O2A1","t":11509,"y":212},{"s":"Only O2A1","t":11592,"y":219},{"s":"Only O2A1","t":11675,"y":213},{"s":"Only O2A1","t":11758,"y":218},{"s":"Only O2A1","t":11840,"y":213},{"s":"Only O2A1","t":11923,"y":219},{"s":"Only O2A1","t":12006,"y":214},{"s":"Only O2A1","t":12089,"y":220},{"s":"Only O2A1","t":12172,"y":213},{"s":"Only O2A1","t":12254,"y":218},{"s":"Only O2A1","t":12296,"y":270},{"s":"Only O2A1","t":12337,"y":215},{"s":"Only O2A1","t":12379,"y":272},{"s":"Only O2A1","t":12420,"y":218},{"s":"Only O2A1","t":12461,"y":270},{"s":"Only O2A1","t":12503,"y":216},{"s":"Only O2A1","t":12544,"y":272},{"s":"Only O2A1","t":12586,"y":218},{"s":"Only O2A1","t":12627,"y":268},{"s":"Only O2A1","t":12668,"y":215},{"s":"Only O2A1","t":12710,"y":270},{"s":"Only O2A1","t":12751,"y":216},{"s":"Only O2A1","t":12834,"y":215},{"s":"Only O2A1","t":12917,"y":270},{"s":"Only O2A1","t":12958,"y":217},{"s":"Only O2A1","t":13041,"y":209},{"s":"Only O2A1","t":13124,"y":216},{"s":"Only O2A1","t":13207,"y":207},{"s":"Only O2A1","t":13289,"y":214},{"s":"Only O2A1","t":13372,"y":205},{"s":"Only O2A1","t":13455,"y":260},{"s":"Only O2A1","t":13496,"y":212},{"s":"Only O2A1","t":13579,"y":204},{"s":"Only O2A1","t":13662,"y":211},{"s":"Only O2A1","t":13745,"y":202},{"s":"Only O2A1","t":13828,"y":209},{"s":"Only O2A1","t":13910,"y":201},{"s":"Only O2A1","t":13993,"y":208},{"s":"Only O2A1","t":14076,"y":200},{"s":"Only O2A1","t":14159,"y":207},{"s":"Only O2A1","t":14242,"y":199},{"s":"Only O2A1","t":14324,"y":206},{"s":"Only O2A1","t":14407,"y":200},{"s":"Only O2A1","t":14490,"y":206},{"s":"Only O2A1","t":14573,"y":201},{"s":"Only O2A1","t":14656,"y":207},{"s":"Only O2A1","t":14738,"y":202},{"s":"Only O2A1","t":14821,"y":208},{"s":"Only O2A1","t":14904,"y":203},{"s":"Only O2A1","t":14987,"y":209},{"s":"Only O2A1","t":15070,"y":204},{"s":"Only O2A1","t":15152,"y":210},{"s":"Only O2A1","t":15235,"y":205},{"s":"Only O2A1","t":15318,"y":211},{"s":"Only O2A1","t":15401,"y":206},{"s":"Only O2A1","t":15484,"y":211},{"s":"Only O2A1","t":15566,"y":205},{"s":"Only O2A1","t":15649,"y":213},{"s":"Only O2A1","t":15732,"y":205},{"s":"Only O2A1","t":15815,"y":214},{"s":"Only O2A1","t":15898,"y":206},{"s":"Only O2A1","t":15980,"y":213},{"s":"Only O2A1","t":16063,"y":205},{"s":"Only O2A1","t":16146,"y":212},{"s":"Only O2A1","t":16187,"y":183},{"s":"Only O2A1","t":16229,"y":217},{"s":"Only O2A1","t":16270,"y":266},{"s":"Only O2A1","t":16312,"y":216},{"s":"Only O2A1","t":16353,"y":268},{"s":"Only O2A1","t":16394,"y":218},{"s":"Only O2A1","t":16477,"y":213},{"s":"Only O2A1","t":16560,"y":250},{"s":"Only O2A1","t":16601,"y":219},{"s":"Only O2A1","t":16684,"y":213},{"s":"Only O2A1","t":16767,"y":219},{"s":"Only O2A1","t":16850,"y":213},{"s":"Only O2A1","t":16933,"y":218},{"s":"Only O2A1","t":17015,"y":213},{"s":"Only O2A1","t":17098,"y":218},{"s":"Only O2A1","t":17181,"y":212},{"s":"Only O2A1","t":17264,"y":217},{"s":"Only O2A1","t":17347,"y":211},{"s":"Only O2A1","t":17429,"y":216},{"s":"Only O2A1","t":17512,"y":210},{"s":"Only O2A1","t":17595,"y":215},{"s":"Only O2A1","t":17678,"y":209},{"s":"Only O2A1","t":17761,"y":215},{"s":"Only O2A1","t":17843,"y":211},{"s":"Only O2A1","t":17926,"y":270},{"s":"Only O2A1","t":17968,"y":212},{"s":"Only O2A1","t":18009,"y":268},{"s":"Only O2A1","t":18050,"y":213},{"s":"Only O2A1","t":18092,"y":272},{"s":"Only O2A1","t":18133,"y":212},{"s":"Only O2A1","t":18175,"y":216},{"s":"Only O2A1","t":18257,"y":208},{"s":"Only O2A1","t":18340,"y":215},{"s":"Only O2A1","t":18423,"y":270},{"s":"Only O2A1","t":18464,"y":212},{"s":"Only O2A1","t":18547,"y":208},{"s":"Only O2A1","t":18589,"y":268},{"s":"Only O2A1","t":18630,"y":211},{"s":"Only O2A1","t":18713,"y":213},{"s":"Only O2A1","t":18796,"y":207},{"s":"Only O2A1","t":18878,"y":212},{"s":"Only O2A1","t":18961,"y":206},{"s":"Only O2A1","t":19044,"y":212},{"s":"Only O2A1","t":19127,"y":207},{"s":"Only O2A1","t":19168,"y":260},{"s":"Only O2A1","t":19210,"y":213},{"s":"Only O2A1","t":19292,"y":206},{"s":"Only O2A1","t":19375,"y":213},{"s":"Only O2A1","t":19458,"y":205},{"s":"Only O2A1","t":19541,"y":212},{"s":"Only O2A1","t":19624,"y":205},{"s":"Only O2A1","t":19748,"y":213},{"s":"Only O2A1","t":19872,"y":206},{"s":"Only O2A1","t":19955,"y":258},{"s":"Only O2A1","t":19996,"y":208},{"s":"Only O2A1","t":20079,"y":213},{"s":"Only O2A1","t":20162,"y":206},{"s":"Only O2A1","t":20245,"y":213},{"s":"Only O2A1","t":20286,"y":265},{"s":"Only O2A1","t":20327,"y":210},{"s":"Only O2A1","t":20369,"y":267},{"s":"Only O2A1","t":20410,"y":209},{"s":"Only O2A1","t":20493,"y":215},{"s":"Only O2A1","t":20576,"y":208},{"s":"Only O2A1","t":20659,"y":215},{"s":"Only O2A1","t":20741,"y":207},{"s":"Only O2A1","t":20824,"y":180},{"s":"Only O2A1","t":20866,"y":208},{"s":"Only O2A1","t":20907,"y":218},{"s":"Only O2A1","t":20990,"y":222},{"s":"Only O2A1","t":21031,"y":224}
]},
"encoding":{
 "y":{"field":"y","type":"quantitative","scale":{"domain":[5,300],"nice":false,"zero":false},"axis":{"ticks":false,"labels":false,"domain":false,"title":"Eigenvectors","titleFontSize":11,"titlePadding":3}},
 "color":{"field":"s","type":"nominal","scale":{"domain":["Combined O2A1 THO","Combined O2A1 ABD","Only ABD","Only THO","Only O2A1"],"range":["#0000ff","#008000","#ff0000","#00bfbf","#bf00bf"]},
  "legend":{"encode":{"symbols":{"update":{"strokeWidth":{"signal":"indexof(['Combined O2A1 THO','Combined O2A1 ABD'], datum.value) >= 0 ? 3.5 : 1"}}}}}},
 "strokeDash":{"field":"s","type":"nominal","scale":{"domain":["Combined O2A1 THO","Combined O2A1 ABD","Only ABD","Only THO","Only O2A1"],"range":[[1,0],[1,0],[3,2],[3,2],[3,2]]}}
},
"layer":[
 {"transform":[{"filter":"datum.s == 'Combined O2A1 THO'"}],"mark":{"type":"line","clip":true,"strokeWidth":3.5,"strokeJoin":"miter","strokeCap":"butt"},
  "encoding":{"x":{"field":"t","type":"quantitative","scale":{"domain":[0,21070],"nice":false,"zero":false},"title":"Time [sec]","axis":{"values":[2000,4000,6000,8000,10000,12000,14000,16000,18000,20000],"labelExpr":"format(datum.value/10000,'~g')","tickSize":-4,"labelPadding":5,"labelFontSize":9,"titleFontSize":11,"titlePadding":2,"domain":false}}}},
 {"transform":[{"filter":"datum.s == 'Combined O2A1 ABD'"}],"mark":{"type":"line","clip":true,"strokeWidth":3.5,"strokeJoin":"miter","strokeCap":"butt"},
  "encoding":{"x":{"field":"t","type":"quantitative","axis":null}}},
 {"transform":[{"filter":"datum.s != 'Combined O2A1 THO' && datum.s != 'Combined O2A1 ABD'"}],"mark":{"type":"line","clip":true,"strokeWidth":1},
  "encoding":{"x":{"field":"t","type":"quantitative","axis":{"orient":"top","values":[2000,4000,6000,8000,10000,12000,14000,16000,18000,20000],"labels":false,"title":null,"tickSize":-4,"domain":false}}}}
],
"resolve":{"axis":{"x":"independent"}}
}
